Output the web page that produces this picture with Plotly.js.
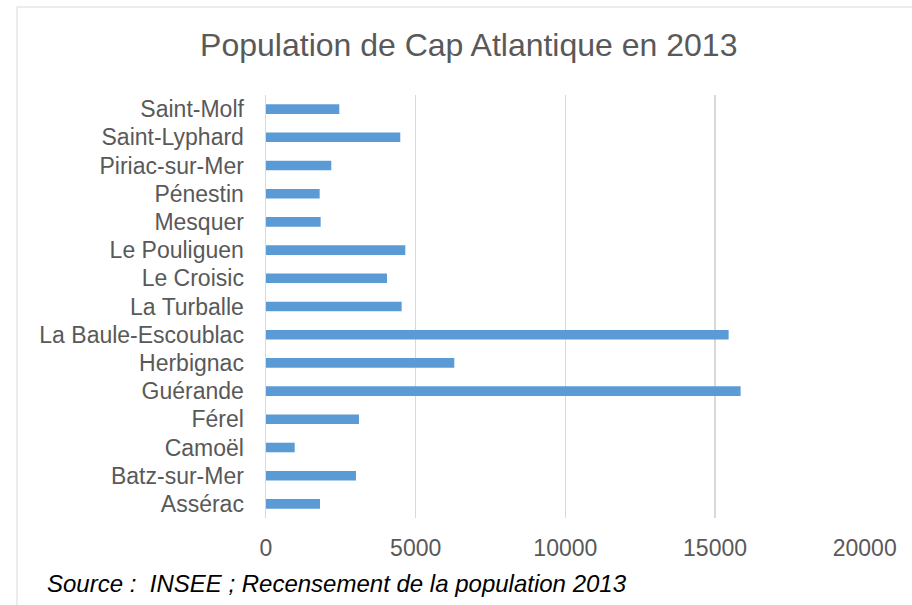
<!DOCTYPE html>
<html>
<head>
<meta charset="utf-8">
<script src="https://cdn.plot.ly/plotly-3.0.1.min.js"></script>
<style>html,body{margin:0;padding:0;background:#fff;}#chart{width:912px;height:605px;}</style>
</head>
<body>
<div id="chart"></div>
<script>
const communes = ["Assérac", "Batz-sur-Mer", "Camoël", "Férel", "Guérande", "Herbignac", "La Baule-Escoublac", "La Turballe", "Le Croisic", "Le Pouliguen", "Mesquer", "Pénestin", "Piriac-sur-Mer", "Saint-Lyphard", "Saint-Molf"];
const population = [1804, 3006, 958, 3106, 15855, 6290, 15454, 4532, 4042, 4653, 1826, 1793, 2181, 4486, 2448];
const tickValues = [0, 5000, 10000, 15000, 20000];
const tickLabels = ["0", "5000", "10000", "15000", "20000"];
const titleText = "Population de Cap Atlantique en 2013";
const sourceText = "Source :  INSEE ; Recensement de la population 2013";

const W = 912, H = 605;
const mL = 266, mR = 47, mT = 95, mB = 87;
const pw = W - mL - mR, ph = H - mT - mB;
const px = v => (v - mL) / pw;
const py = v => (H - mB - v) / ph;

const font = "'Liberation Sans', Arial, sans-serif";

Plotly.newPlot('chart', [{
  type: 'bar',
  orientation: 'h',
  y: communes,
  x: population,
  marker: {color: '#5B9BD5'},
  hoverinfo: 'x+y'
}], {
  width: W, height: H,
  margin: {l: mL, r: mR, t: mT, b: mB, pad: 0},
  paper_bgcolor: '#fff', plot_bgcolor: '#fff',
  bargap: 0.66,
  showlegend: false,
  font: {family: font, color: '#595959'},
  title: {text: titleText, font: {family: font, size: 32, color: '#595959'},
          xref: 'container', x: 0.514, xanchor: 'center', yref: 'container', y: 0.926, yanchor: 'middle'},
  xaxis: {range: [0, 20010], tickvals: tickValues, ticktext: tickLabels, showgrid: true,
          gridcolor: '#d9d9d9', gridwidth: 1.3, zeroline: false, showline: false, ticks: '',
          ticklabelstandoff: 14, tickfont: {family: font, size: 23, color: '#595959'}, fixedrange: true},
  yaxis: {type: 'category', showgrid: false, zeroline: false, showline: true, linecolor: '#d9d9d9',
          linewidth: 1.5, ticks: '', ticklabelstandoff: 16,
          tickfont: {family: font, size: 23, color: '#595959'}, fixedrange: true},
  shapes: [{type: 'rect', xref: 'paper', yref: 'paper', x0: px(17), x1: px(W + 20), y0: py(H + 20), y1: py(7),
            line: {color: '#d9d9d9', width: 1}, fillcolor: 'rgba(0,0,0,0)', layer: 'below'}],
  annotations: [{text: sourceText, xref: 'paper', yref: 'paper', x: px(45), y: py(583), xanchor: 'left', yanchor: 'middle',
                 showarrow: false, font: {family: font, size: 24, color: '#000000', style: 'italic'}}]
}, {displayModeBar: false, staticPlot: true});
</script>
</body>
</html>
